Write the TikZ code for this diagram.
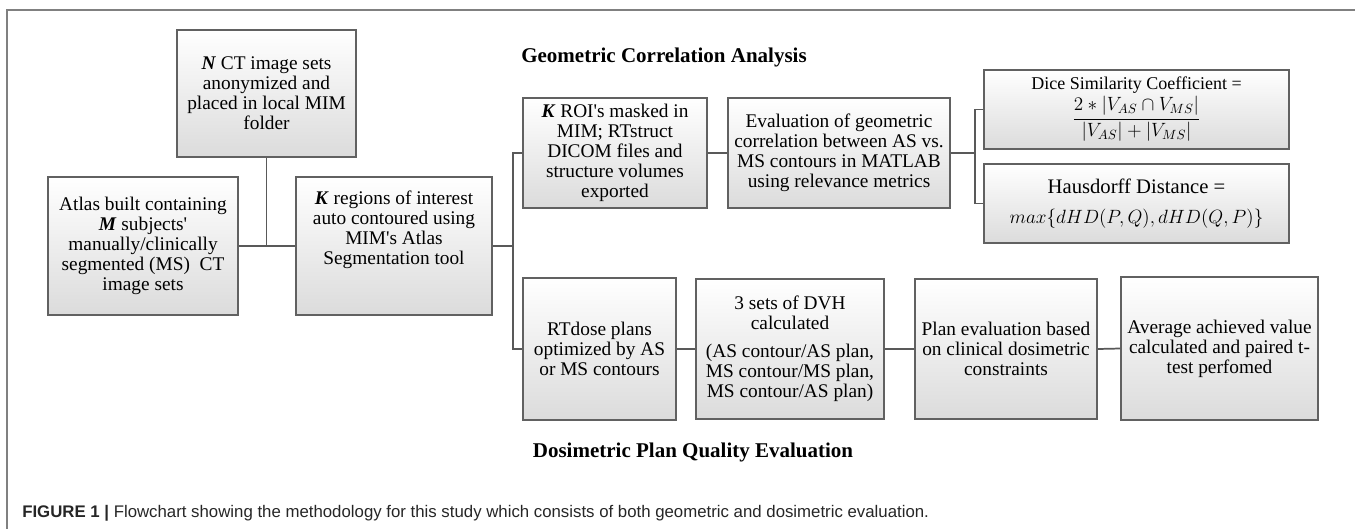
\documentclass[tikz,border=0pt]{standalone}
\usepackage{fontspec}
\setmainfont{Liberation Serif}
\newfontfamily\capfont{Liberation Sans}
\usetikzlibrary{calc}
\newcommand{\apos}{\textquotesingle}
\tikzset{
  bx/.style 2 args={draw=black!62, line width=1.2pt, top color=white, middle color=white, bottom color=black!14,
    minimum width=#1*0.75pt, minimum height=#2*0.75pt, inner sep=0pt, align=center,
    font=\fontsize{14.5}{15}\selectfont},
  conn/.style={draw=black!65, line width=1.3pt},
  frame/.style={draw=black!50, line width=1.1pt},
  ttl/.style={font=\fontsize{15.75}{17}\selectfont\bfseries},
}
\begin{document}
\begin{tikzpicture}[x=0.75pt, y=-0.75pt]
\useasboundingbox (0,0) rectangle (1355,529);
\coordinate (f0) at (7,10);
\coordinate (f1) at (1355,10);
\coordinate (f2) at (7,529);
\draw[frame] (f1) -- (f0) -- (f2);

\node[bx={179}{127}] (nct) at (266.5,93.5) {\textbf{\textit{N}} CT image sets\\anonymized and\\placed in local MIM\\folder};
\node[bx={190}{138}] (atlas) at (143,246) {Atlas built containing\\\textbf{\textit{M}} subjects\apos\\manually/clinically\\segmented (MS)\ \ CT\\image sets};
\node[bx={196}{138}] (kreg) at (394,246) {\textbf{\textit{K}} regions of interest\\auto contoured using\\MIM\apos s Atlas\\Segmentation tool\\[12pt]\mbox{}};
\node[bx={184}{110}] (kroi) at (615,153) {\textbf{\textit{K}} ROI\apos s masked in\\MIM; RTstruct\\DICOM files and\\structure volumes\\exported};
\node[bx={222}{110}] (eval) at (839,153) {Evaluation of geometric\\correlation between AS vs.\\MS contours in MATLAB\\using relevance metrics};
\node[bx={305}{79}, font=\fontsize{13.5}{15}\selectfont] (dice) at (1136.5,109.5) {Dice Similarity Coefficient =\\[1pt] {\fontsize{14}{16}\selectfont$\displaystyle\frac{2\ast|V_{AS}\cap V_{MS}|}{|V_{AS}|+|V_{MS}|}$}};
\node[bx={305}{79}, font=\fontsize{15.5}{22}\selectfont] (haus) at (1136.5,203.5) {Hausdorff Distance =\\{\fontsize{14.5}{22}\selectfont$max\{dHD(P,Q), dHD(Q,P)\}$}};
\node[bx={153}{142}] (rtdose) at (599.5,349) {RTdose plans\\optimized by AS\\or MS contours};
\node[bx={188}{140}] (dvh) at (790,349) {3 sets of DVH\\calculated\\[6pt](AS contour/AS plan,\\MS contour/MS plan,\\MS contour/AS plan)};
\node[bx={182}{140}] (plan) at (1006,349) {Plan evaluation based\\on clinical dosimetric\\constraints};
\node[bx={197}{143}] (avg) at (1219.5,348.5) {Average achieved value\\calculated and paired t-\\test perfomed};

\node[ttl] (gtitle) at (664,57) {Geometric Correlation Analysis};
\node[ttl] (dtitle) at (693,452) {Dosimetric Plan Quality Evaluation};
\node[anchor=west, inner sep=0pt, text=black!85, font=\capfont\fontsize{12.6}{14}\selectfont] (cap) at (22,513) {\textbf{FIGURE 1 |} Flowchart showing the methodology for this study which consists of both geometric and dosimetric evaluation.};

% connectors
\coordinate (t1) at (513,153);
\coordinate (t2) at (513,349);
\coordinate (b1) at (975,109.5);
\coordinate (b2) at (975,203.5);
\draw[conn] (atlas.east) -- (kreg.west);
\draw[conn] (nct.south) -- (nct.south |- atlas.east);
\draw[conn] (kreg.east) -- (kreg.east -| t1);
\draw[conn] (kroi.west) -- (t1) -- (t2) -- (rtdose.west);
\draw[conn] (kroi.east) -- (eval.west);
\draw[conn] (eval.east) -- (eval.east -| b1);
\draw[conn] (dice.west) -- (b1) -- (b2) -- (haus.west);
\draw[conn] (rtdose.east) -- (dvh.west);
\draw[conn] (dvh.east) -- (plan.west);
\draw[conn] (plan.east) -- (avg.west);
\end{tikzpicture}
\end{document}
